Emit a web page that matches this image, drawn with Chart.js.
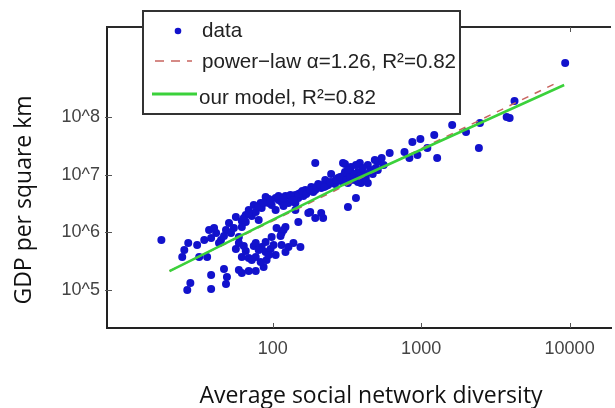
<!DOCTYPE html>
<html><head><meta charset="utf-8">
<script src="https://cdn.jsdelivr.net/npm/chart.js@4"></script>
<style>html,body{margin:0;padding:0;background:#fff;overflow:hidden}</style>
</head><body>
<canvas id="c" width="615" height="408"></canvas>
<script>
const diversity = [17.8,24.6,25.4,27.0,31.0,32.0,36.2,37.3,41.6,38.5,44.9,48.5,43.5,50.8,56.5,62.0,74.6,72.3,52.4,65.9,
26.6,27.9,38.5,38.5,47.0,49.2,48.5,62.0,69.0,76.9,86.9,59.2,56.5,62.0,65.9,69.0,74.6,76.9,83.0,84.3,
89.7,96.8,104.7,114.8,91.0,59.2,72.3,127.7,153.8,114.8,122,106.2,118.3,113,98.4,89.7,76.9,59.2,62.0,80.5,
65.9,89.7,94.0,98.4,104.7,104.7,114.8,122,127.7,142.2,142.2,153.8,166,182,202.8,225.9,247.7,275.4,306.9,336.5,
358,193.6,306.9,173.8,193.6,212.3,236.6,263,288.4,321.4,392.6,437.5,375,142.2,179,193.6,218.8,148.9,173.8,212.3,
321.4,363.9,76.9,84.3,297.8,336.5,386.4,437.5,510.5,306.9,375,458,494.3,288.4,336.5,411,487.5,613.8,542,772.7,
833.7,873,944,988.5,1101,1225,1282,1618,2006,2489,2449,3767,3945,4256,9333,133.7,148.9,161,187.5,229,
255.3,297.8,347.5,404.6,450.8,118.3,109.6,83.0,94.0,69.0,
80.5,86.9,96.8,109.6,118.3,131.8,138,148.9,158.5,168.5,179,196.6,209,222.3,243.8,267.3,284.3,311.9,331.6,352.6,
386.4,424.1,472,510.5,559.4,321.4,404.6,363.9,34.6,40.3,47.0,54.8,63.9,69.0,63.9,80.5,101.4,122,138,94.0];
const gdpPerKm2 = [7.36e5,3.73e5,4.94e5,6.53e5,6.03e5,3.73e5,3.73e5,1.10e6,9.73e5,7.98e5,7.36e5,1.10e6,6.53e5,1.45e6,1.85e6,1.57e6,2.98e6,1.92e6,9.73e5,1.51e6,
1.0e5,1.32e5,1.04e5,1.82e5,2.31e5,1.68e5,1.27e5,1.97e5,2.13e5,2.13e5,2.51e5,2.22e5,5.14e5,3.73e5,4.75e5,3.59e5,5.79e5,3.73e5,3.06e5,5.57e5,
4.56e5,5.14e5,4.05e5,6.03e5,3.31e5,6.53e5,3.31e5,5.57e5,5.57e5,9.73e5,1.24e6,1.19e6,1.10e6,8.63e5,8.3e5,6.8e5,6.53e5,8.3e5,1.24e6,1.64e6,
2.0e6,4.10e6,3.78e6,2.98e6,3.94e6,2.44e6,3.36e6,4.27e6,3.23e6,3.23e6,4.44e6,4.81e6,5.42e6,6.11e6,6.89e6,8.08e6,1.03e7,8.75e6,9.1e6,1.07e7,
8.08e6,1.59e7,1.53e7,5.21e6,5.42e6,5.87e6,6.62e6,6.89e6,7.76e6,7.16e6,7.16e6,7.16e6,7.46e6,2.44e6,2.25e6,1.77e6,1.77e6,1.51e6,2.16e6,2.16e6,
2.75e6,3.94e6,2.25e6,2.64e6,1.59e7,1.36e7,1.59e7,1.47e7,1.66e7,1.11e7,1.11e7,1.21e7,1.30e7,8.08e6,8.08e6,9.48e6,1.79e7,2.38e7,1.95e7,2.47e7,
1.95e7,3.68e7,2.19e7,4.15e7,2.9e7,4.88e7,1.95e7,7.26e7,5.5e7,7.87e7,2.9e7,1.0e8,9.6e7,1.89e8,8.63e8,3.78e6,3.94e6,4.27e6,5.0e6,6.36e6,
7.46e6,9.48e6,8.75e6,1.03e7,1.11e7,2.86e6,3.64e6,3.23e6,3.23e6,2.44e6,
2.75e6,3.23e6,3.49e6,4.27e6,3.94e6,4.44e6,3.64e6,4.62e6,5.21e6,4.62e6,5.42e6,6.11e6,6.62e6,6.11e6,7.46e6,8.08e6,9.1e6,8.08e6,9.48e6,1.03e7,
9.48e6,8.75e6,1.03e7,1.21e7,1.47e7,1.21e7,1.30e7,1.47e7,7.36e5,1.19e6,8.63e5,1.19e6,1.77e6,2.16e6,5.79e5,4.94e5,6.03e5,4.56e5,6.53e5,4.05e5];
const powerLawX = [20.2, 7900];
const powerLawY = [2.13e5, 3.75e8];
const modelX = [20.2, 298, 9190];
const modelY = [2.13e5, 6.62e6, 3.59e8];
const xTickValues = [100, 1000, 10000];
const xTickLabels = ['100', '1000', '10000'];
const yTickValues = [1e5, 1e6, 1e7, 1e8];
const yTickLabels = ['10^5', '10^6', '10^7', '10^8'];
const seriesLabels = ['data', 'power\u2212law \u03b1=1.26, R\u00b2=0.82', 'our model, R\u00b2=0.82'];
const xTitle = 'Average social network diversity';
const yTitle = 'GDP per square km';

const toPts = (xs, ys) => xs.map((x, i) => ({x: x, y: ys[i]}));
const BLUE = '#1212cc', RED = '#c8645f', GREEN = '#3bd13b';
const tickFont = {family: '"Liberation Sans", Arial, sans-serif', size: 18};

const framePlugin = {
  id: 'frame',
  afterDraw(chart) {
    const ctx = chart.ctx, a = chart.chartArea, sx = chart.scales.x, sy = chart.scales.y;
    ctx.save();
    ctx.strokeStyle = '#2a2a2a'; ctx.lineWidth = 2;
    ctx.beginPath(); ctx.moveTo(a.left - 1, a.top); ctx.lineTo(a.right, a.top); ctx.stroke();
    ctx.lineWidth = 1; ctx.strokeStyle = '#555';
    xTickValues.forEach(v => {
      const p = Math.round(sx.getPixelForValue(v)) + 0.5;
      ctx.beginPath(); ctx.moveTo(p, a.bottom); ctx.lineTo(p, a.bottom - 5);
      ctx.moveTo(p, a.top); ctx.lineTo(p, a.top + 5); ctx.stroke();
    });
    yTickValues.forEach(v => {
      const p = Math.round(sy.getPixelForValue(v)) + 0.5;
      ctx.beginPath(); ctx.moveTo(a.left - 2, p); ctx.lineTo(a.left + 5, p); ctx.stroke();
    });
    // axis titles
    ctx.fillStyle = '#111';
    ctx.font = '23px "Open Sans", sans-serif';
    ctx.textAlign = 'center'; ctx.textBaseline = 'alphabetic';
    ctx.fillText(xTitle, 371, 403);
    ctx.save(); ctx.translate(31, 200); ctx.rotate(-Math.PI / 2);
    ctx.fillText(yTitle, 0, 0); ctx.restore();
    // legend
    const ds = chart.data.datasets;
    ctx.fillStyle = '#fff'; ctx.fillRect(143, 11, 317, 103);
    ctx.strokeStyle = '#333'; ctx.lineWidth = 2; ctx.strokeRect(143, 11, 317, 103);
    ctx.fillStyle = ds[0].backgroundColor;
    ctx.beginPath(); ctx.arc(178, 31, 3.3, 0, Math.PI * 2); ctx.fill();
    ctx.strokeStyle = ds[1].borderColor; ctx.lineWidth = 1.5; ctx.setLineDash([9, 7]);
    ctx.beginPath(); ctx.moveTo(155, 61); ctx.lineTo(192, 61); ctx.stroke();
    ctx.setLineDash([]);
    ctx.strokeStyle = ds[2].borderColor; ctx.lineWidth = 3;
    ctx.beginPath(); ctx.moveTo(152, 94); ctx.lineTo(197, 94); ctx.stroke();
    ctx.fillStyle = '#222'; ctx.textAlign = 'left';
    ctx.font = '20.6px "Liberation Sans", Arial, sans-serif';
    ctx.fillText(ds[0].label, 202, 37);
    ctx.fillText(ds[1].label, 202, 68);
    ctx.fillText(ds[2].label, 199, 104);
    ctx.restore();
  }
};

new Chart(document.getElementById('c'), {
  type: 'scatter',
  data: {
    datasets: [
      {label: seriesLabels[0], data: toPts(diversity, gdpPerKm2), backgroundColor: BLUE, borderColor: BLUE,
       pointRadius: 4, pointBorderWidth: 0, order: 3},
      {label: seriesLabels[1], data: toPts(powerLawX, powerLawY), showLine: true, borderColor: RED,
       backgroundColor: RED, borderWidth: 1.5, borderDash: [7, 7], pointRadius: 0, order: 2},
      {label: seriesLabels[2], data: toPts(modelX, modelY), showLine: true, borderColor: GREEN,
       backgroundColor: GREEN, borderWidth: 2.5, pointRadius: 0, order: 1}
    ]
  },
  options: {
    responsive: false, animation: false,
    layout: {padding: {top: 27, left: 0, right: 0, bottom: 0}},
    plugins: {legend: {display: false}, tooltip: {enabled: false}},
    scales: {
      x: {
        type: 'logarithmic', min: 7.66, max: 19000,
        afterBuildTicks: s => { s.ticks = xTickValues.map(v => ({value: v})); },
        ticks: {callback: v => xTickLabels[xTickValues.indexOf(v)], font: tickFont, color: '#444',
                padding: 10, maxRotation: 0, autoSkip: false},
        grid: {display: false, drawTicks: false},
        border: {display: true, color: '#222', width: 2},
        afterFit: s => { s.height = 80; }
      },
      y: {
        type: 'logarithmic', min: 21900, max: 3.64e9,
        afterBuildTicks: s => { s.ticks = yTickValues.map(v => ({value: v})); },
        ticks: {callback: v => yTickLabels[yTickValues.indexOf(v)], font: tickFont, color: '#444',
                padding: 7, autoSkip: false},
        grid: {display: false, drawTicks: false},
        border: {display: true, color: '#222', width: 2},
        afterFit: s => { s.width = 107; }
      }
    }
  },
  plugins: [framePlugin]
});
</script>
</body></html>
